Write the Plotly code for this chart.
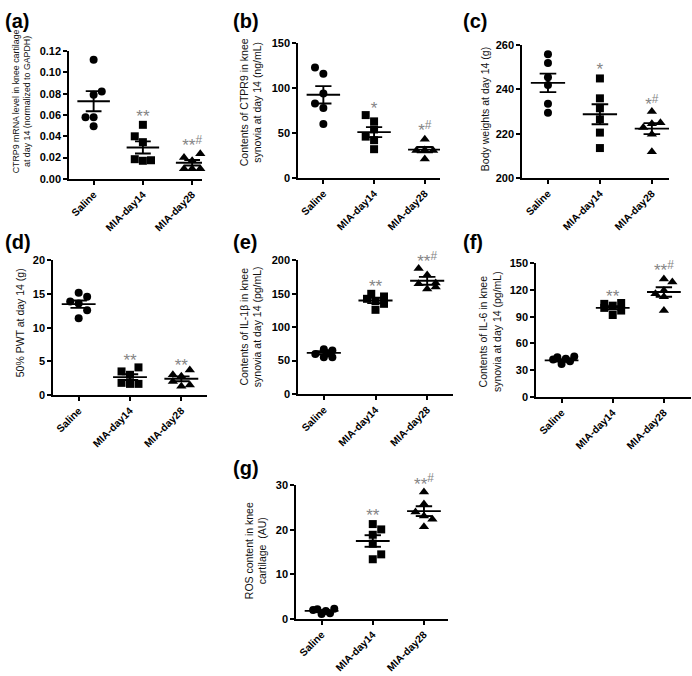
import plotly.graph_objects as go

categories = ["Saline", "MIA-day14", "MIA-day28"]

# ---- (a) CTRP9 mRNA ----
a_saline = [0.112, 0.079, 0.082, 0.058, 0.058, 0.0495]
a_day14 = [0.0508, 0.040, 0.0345, 0.0185, 0.017, 0.0175]
a_day28 = [0.020, 0.0235, 0.017, 0.0095, 0.0095, 0.0095]
a_mean = [0.073, 0.0295, 0.0152]
a_sem = [0.0095, 0.0057, 0.0026]
a_sig = ["", "**", "**<sup>#</sup>"]
a_sig_y = [None, 0.057, 0.030]

# ---- (b) CTRP9 in synovia ----
b_saline = [123, 116, 94, 83, 78, 60]
b_day14 = [70, 63, 54, 46, 42, 32]
b_day28 = [43, 30.5, 31, 30.5, 21]
b_mean = [92.6, 51.0, 31.5]
b_sem = [9.7, 5.6, 2.9]
b_sig = ["", "*", "*<sup>#</sup>"]
b_sig_y = [None, 76, 51]

# ---- (c) Body weights ----
c_saline = [256, 252, 245.5, 242, 233.5, 229.5]
c_day14 = [245, 236, 231.5, 226.5, 220.5, 213.5]
c_day28 = [230, 222.8, 225, 224.5, 219.7, 211.8]
c_mean = [243.0, 228.8, 222.3]
c_sem = [4.2, 4.5, 2.5]
c_sig = ["", "*", "*<sup>#</sup>"]
c_sig_y = [None, 248.3, 232.8]

# ---- (d) 50% PWT ----
d_saline = [15.2, 13.9, 14.6, 13.6, 12.6, 11.4]
d_day14 = [4.1, 3.5, 3.0, 1.8, 1.65, 1.65]
d_day28 = [3.7, 3.0, 2.8, 2.0, 1.3, 1.5]
d_mean = [13.5, 2.65, 2.4]
d_sem = [0.55, 0.42, 0.36]
d_sig = ["", "**", "**"]
d_sig_y = [None, 5.0, 4.2]

# ---- (e) IL-1beta ----
e_saline = [67, 65, 60, 61, 55, 55]
e_day14 = [150, 142.5, 146, 139, 135, 126]
e_day28 = [188, 178, 165, 166, 157, 160]
e_mean = [61.5, 140.0, 169.5]
e_sem = [2.4, 4.0, 5.9]
e_sig = ["", "**", "**<sup>#</sup>"]
e_sig_y = [None, 159, 197]

# ---- (f) IL-6 ----
f_saline = [42, 44.5, 37, 43, 40, 45.5]
f_day14 = [104.5, 100, 102.5, 105.5, 97, 92]
f_day28 = [132.5, 129, 116, 119.5, 112.5, 97]
f_mean = [41.0, 100.0, 117.8]
f_sem = [1.4, 2.0, 5.3]
f_sig = ["", "**", "**<sup>#</sup>"]
f_sig_y = [None, 111, 140.5]

# ---- (g) ROS ----
g_saline = [2.0, 2.2, 1.1, 1.8, 1.3, 2.3]
g_day14 = [21.3, 20.1, 18.9, 16.9, 14.5, 13.4]
g_day28 = [28.5, 25.8, 24.0, 23.1, 22.4, 20.7]
g_mean = [1.8, 17.5, 24.2]
g_sem = [0.2, 1.3, 1.1]
g_sig = ["", "**", "**<sup>#</sup>"]
g_sig_y = [None, 23.0, 30.0]

# horizontal jitter (in units of JIT) of each point within its column
a_dx = [[0, 0, 1, -1, 0, 0], [0, -1, 0, -1, 0, 1], [-1, 1, 0, -1, 0, 1]]
b_dx = [[-1, 0, 0, -1, 0, 0], [-1, 0, 0, -1, 0, 0], [0, -1, 0, 1, 0]]
c_dx = [[0, 0, 0, 0, 0, 0], [0, 0, 0, 0, 0, 0], [0, -1, 1, 0, 0, 0]]
d_dx = [[0, -1, 1, 0, 1, 0], [1, -1, 0, -1, 0, 1], [1, -1, 0, -1, 0, 1]]
e_dx = [[0, 1, -1, 0.5, 0, 1], [-0.5, -1, 1, 0, 1, 0], [-1, 0, -1, 1, 0, 1]]
f_dx = [[-1, -0.5, 0, 0.5, 1, 1.5], [-1, -1, 0, 1, 1, 0], [0, 1, -1, 0, 0, 0]]
g_dx = [[-1, -0.5, 0, 0.5, 1, 1.5], [0, 1, 0, 0, 1, 0], [0, 0, -1, 0, 1, 0]]

W, H = 692, 676
JIT = 0.165
FONT = "Liberation Sans, Arial, sans-serif"
SYMBOLS = ["circle", "square", "triangle-up"]
SIZES = [8, 8, 9]

panels = [
    ("(a)", [a_saline, a_day14, a_day28], a_dx, a_mean, a_sem, a_sig, a_sig_y,
     (69, 202), (46, 176), (0, 0.12), 0.02, ".2f", 2.2,
     "CTRP9 mRNA level in knee cartilage<br>at day 14 (normalized to GAPDH)", (21, 97), 8.8, (3, 15)),
    ("(b)", [b_saline, b_day14, b_day28], b_dx, b_mean, b_sem, b_sig, b_sig_y,
     (298, 440), (38, 175), (0, 150), 50, "", 2.3,
     "Contents of CTPR9 in knee<br>synovia at day 14 (ng/mL)", (251, 98), 10.5, (231, 15)),
    ("(c)", [c_saline, c_day14, c_day28], c_dx, c_mean, c_sem, c_sig, c_sig_y,
     (522, 669), (40, 175), (200, 260), 20, "", 2.33,
     "Body weights at day 14 (g)", (485, 105), 10.5, (461, 15)),
    ("(d)", [d_saline, d_day14, d_day28], d_dx, d_mean, d_sem, d_sig, d_sig_y,
     (53, 207), (259, 396), (0, 20), 5, "", 2.5,
     "50% PWT at day 14 (g)", (20, 323), 10.5, (3, 240)),
    ("(e)", [e_saline, e_day14, e_day28], e_dx, e_mean, e_sem, e_sig, e_sig_y,
     (298, 453), (259, 395), (0, 200), 50, "", 2.5,
     "Contents of IL-1β in knee<br>synovia at day 14 (pg/mL)", (251, 327), 10.5, (231, 240)),
    ("(f)", [f_saline, f_day14, f_day28], f_dx, f_mean, f_sem, f_sig, f_sig_y,
     (536, 691), (262, 398), (0, 150), 30, "", 2.53,
     "Contents of IL-6 in knee<br>synovia at day 14 (pg/mL)", (490, 332), 10.5, (461, 240)),
    ("(g)", [g_saline, g_day14, g_day28], g_dx, g_mean, g_sem, g_sig, g_sig_y,
     (296, 448), (488, 624), (0, 30), 10, "", 2.47,
     "ROS content in knee<br>cartilage  (AU)", (256, 555), 10.5, (231, 470)),
]

fig = go.Figure()
annotations = []

for i, (lab, groups, dxs, means, sems, sigs, sig_ys, xpx, ypx, yr, dt, fmt, xmax,
        title, tpos, tsize, lpos) in enumerate(panels):
    n = i + 1
    xa = "x" if n == 1 else f"x{n}"
    ya = "y" if n == 1 else f"y{n}"
    for k, vals in enumerate(groups):
        xs = [k + d * JIT for d in dxs[k]]
        fig.add_trace(go.Scatter(
            x=xs, y=vals, mode="markers", xaxis=xa, yaxis=ya,
            marker=dict(symbol=SYMBOLS[k], size=SIZES[k], color="black", line=dict(width=0)),
            cliponaxis=False, showlegend=False, hoverinfo="y"))
    ex, ey = [], []
    for k in range(3):
        m, s = means[k], sems[k]
        ex += [k - 0.33, k + 0.33, None, k - 0.16, k + 0.16, None,
               k - 0.16, k + 0.16, None, k, k, None]
        ey += [m, m, None, m + s, m + s, None, m - s, m - s, None, m + s, m - s, None]
    fig.add_trace(go.Scatter(
        x=ex, y=ey, mode="lines", xaxis=xa, yaxis=ya,
        line=dict(color="black", width=1.9), cliponaxis=False,
        showlegend=False, hoverinfo="skip"))
    sx = [k for k in range(3) if sigs[k]]
    fig.add_trace(go.Scatter(
        x=sx, y=[sig_ys[k] for k in sx], text=[sigs[k] for k in sx],
        mode="text", textposition="middle center", xaxis=xa, yaxis=ya,
        textfont=dict(family=FONT, size=17, color="#858585"),
        cliponaxis=False, showlegend=False, hoverinfo="skip"))

    xdom = [xpx[0] / W, xpx[1] / W]
    ydom = [1 - ypx[1] / H, 1 - ypx[0] / H]
    axis_common = dict(showline=True, linecolor="black", linewidth=1.5,
                       ticks="outside", ticklen=4, tickwidth=1.5, tickcolor="black",
                       showgrid=False, zeroline=False, fixedrange=True)
    fig.layout[("xaxis" if n == 1 else f"xaxis{n}")] = dict(
        domain=xdom, anchor=ya, range=[-0.5, xmax],
        tickmode="array", tickvals=[0, 1, 2], ticktext=categories,
        tickangle=-45,
        tickfont=dict(family=FONT, size=10.3, color="black", weight="bold"),
        **axis_common)
    fig.layout[("yaxis" if n == 1 else f"yaxis{n}")] = dict(
        domain=ydom, anchor=xa, range=list(yr), dtick=dt, tick0=yr[0],
        tickformat=fmt,
        tickfont=dict(family=FONT, size=11, color="black", weight="bold"),
        **axis_common)

    annotations.append(dict(
        text=title, xref="paper", yref="paper", x=tpos[0] / W, y=1 - tpos[1] / H,
        xanchor="center", yanchor="middle", textangle=-90, showarrow=False,
        font=dict(family=FONT, size=tsize, color="#111111")))
    annotations.append(dict(
        text=lab, xref="paper", yref="paper", x=lpos[0] / W, y=1 - lpos[1] / H,
        xanchor="left", yanchor="middle", showarrow=False,
        font=dict(family=FONT, size=20, color="black", weight="bold")))

fig.update_layout(
    width=W, height=H, margin=dict(l=0, r=0, t=0, b=0),
    paper_bgcolor="white", plot_bgcolor="white",
    annotations=annotations, showlegend=False,
)

fig.write_html("out.html", config={"displayModeBar": False},
               post_script="document.body.style.margin='0';document.body.style.overflow='hidden';")
